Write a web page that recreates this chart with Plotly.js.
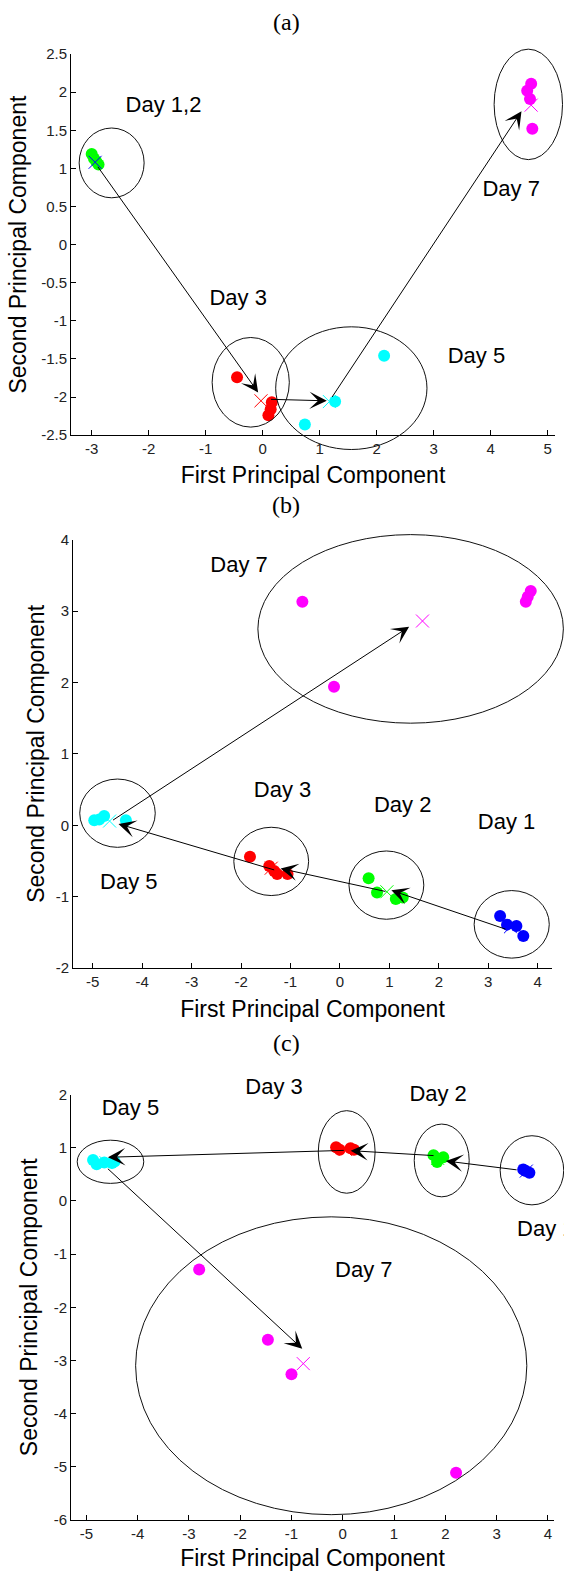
<!DOCTYPE html>
<html><head><meta charset="utf-8">
<script src="https://cdn.plot.ly/plotly-3.0.1.min.js"></script>
<style>html,body{margin:0;padding:0;background:#fff;}#chart{width:564px;height:1571px;}</style>
</head><body><div id="chart"></div>
<script>
// ================= DATA =================
// ---- Panel (a) ----
const aDay12X = [-3.00, -2.96, -2.92, -2.88];
const aDay12Y = [1.19, 1.13, 1.09, 1.05];
const aDay3X = [-0.45, 0.16, 0.14, 0.10];
const aDay3Y = [-1.74, -2.07, -2.16, -2.24];
const aDay5X = [2.13, 1.27, 0.74];
const aDay5Y = [-1.46, -2.06, -2.36];
const aDay7X = [4.71, 4.64, 4.69, 4.73];
const aDay7Y = [2.11, 2.02, 1.91, 1.52];
const aCentX = [-2.94, -0.03, 1.17, 4.71];
const aCentY = [1.08, -2.05, -2.06, 1.83];
const aEllCX = [-2.65, -0.21, 1.555, 4.66];
const aEllCY = [1.072, -1.807, -1.884, 1.84];
const aEllRX = [0.57, 0.677, 1.327, 0.60];
const aEllRY = [0.458, 0.588, 0.805, 0.725];
const aArrTailX = [-2.91, 0.12, 1.20];
const aArrTailY = [1.04, -2.03, -2.02];
const aArrHeadX = [-0.08, 1.125, 4.54];
const aArrHeadY = [-1.94, -2.05, 1.75];
const aLabels = ['Day 1,2', 'Day 3', 'Day 5', 'Day 7'];
const aLabX = [-1.74, -0.43, 3.75, 4.36];
const aLabY = [1.816, -0.715, -1.48, 0.716];
const aXTicks = [-3, -2, -1, 0, 1, 2, 3, 4, 5];
const aXTickText = ['-3', '-2', '-1', '0', '1', '2', '3', '4', '5'];
const aYTicks = [-2.5, -2, -1.5, -1, -0.5, 0, 0.5, 1, 1.5, 2, 2.5];
const aYTickText = ['-2.5', '-2', '-1.5', '-1', '-0.5', '0', '0.5', '1', '1.5', '2', '2.5'];

// ---- Panel (b) ----
const bDay1X = [3.24, 3.38, 3.57, 3.71];
const bDay1Y = [-1.27, -1.39, -1.41, -1.55];
const bDay2X = [0.58, 0.75, 1.13, 1.27];
const bDay2Y = [-0.74, -0.94, -1.03, -1.01];
const bDay3X = [-1.82, -1.43, -1.33, -1.27, -1.06];
const bDay3Y = [-0.44, -0.57, -0.64, -0.68, -0.68];
const bDay5X = [-4.97, -4.87, -4.77, -4.33];
const bDay5Y = [0.07, 0.08, 0.13, 0.07];
const bDay7X = [-0.76, -0.12, 3.76, 3.80, 3.86];
const bDay7Y = [3.13, 1.94, 3.13, 3.20, 3.28];
const bCentX = [3.45, 0.95, -1.39, -4.66, 1.67];
const bCentY = [-1.42, -0.93, -0.60, 0.06, 2.86];
const bEllCX = [3.475, 0.94, -1.39, -4.50, 1.43];
const bEllCY = [-1.386, -0.837, -0.505, 0.17, 2.75];
const bEllRX = [0.76, 0.757, 0.757, 0.764, 3.09];
const bEllRY = [0.473, 0.478, 0.478, 0.478, 1.32];
const bArrTailX = [3.38, 0.95, -1.30, -4.62];
const bArrTailY = [-1.46, -0.93, -0.63, 0.06];
const bArrHeadX = [1.04, -1.20, -4.48, 1.40];
const bArrHeadY = [-0.91, -0.605, 0.02, 2.78];
const bLabels = ['Day 7', 'Day 3', 'Day 2', 'Day 1', 'Day 5'];
const bLabX = [-2.04, -1.16, 1.27, 3.37, -4.27];
const bLabY = [3.63, 0.47, 0.27, 0.03, -0.82];
const bXTicks = [-5, -4, -3, -2, -1, 0, 1, 2, 3, 4];
const bXTickText = ['-5', '-4', '-3', '-2', '-1', '0', '1', '2', '3', '4'];
const bYTicks = [-2, -1, 0, 1, 2, 3, 4];
const bYTickText = ['-2', '-1', '0', '1', '2', '3', '4'];

// ---- Panel (c) ----
const cDay1X = [3.52, 3.57, 3.64];
const cDay1Y = [0.59, 0.56, 0.53];
const cDay2X = [1.77, 1.84, 1.86, 1.96];
const cDay2Y = [0.86, 0.73, 0.79, 0.82];
const cDay3X = [-0.13, -0.06, 0.15, 0.22];
const cDay3Y = [1.01, 0.96, 0.99, 0.96];
const cDay5X = [-4.87, -4.80, -4.65, -4.50, -4.45];
const cDay5Y = [0.77, 0.69, 0.72, 0.71, 0.74];
const cDay7X = [-2.80, -1.46, -1.00, 2.21];
const cDay7Y = [-1.29, -2.61, -3.26, -5.11];
const cCentX = [3.58, 1.85, 0.05, -4.62, -0.77];
const cCentY = [0.56, 0.80, 0.97, 0.72, -3.06];
const cEllCX = [3.69, 1.93, 0.077, -4.53, -0.225];
const cEllCY = [0.575, 0.76, 0.92, 0.735, -3.10];
const cEllRX = [0.62, 0.536, 0.554, 0.649, 3.815];
const cEllRY = [0.65, 0.684, 0.776, 0.406, 2.80];
const cArrTailX = [3.42, 1.80, 0.05, -4.61];
const cArrTailY = [0.58, 0.85, 0.95, 0.63];
const cArrHeadX = [2.01, 0.154, -4.58, -0.79];
const cArrHeadY = [0.75, 0.944, 0.82, -2.78];
const cLabels = ['Day 5', 'Day 3', 'Day 2', 'Day 1', 'Day 7'];
const cLabX = [-4.14, -1.34, 1.86, 3.96, 0.41];
const cLabY = [1.72, 2.11, 1.99, -0.55, -1.32];
const cXTicks = [-5, -4, -3, -2, -1, 0, 1, 2, 3, 4];
const cXTickText = ['-5', '-4', '-3', '-2', '-1', '0', '1', '2', '3', '4'];
const cYTicks = [-6, -5, -4, -3, -2, -1, 0, 1, 2];
const cYTickText = ['-6', '-5', '-4', '-3', '-2', '-1', '0', '1', '2'];

const panelTitles = ['(a)', '(b)', '(c)'];
const xTitle = 'First Principal Component';
const yTitle = 'Second Principal Component';

// ================= STYLE / LAYOUT =================
const W = 564, H = 1571;
const SANS = 'Liberation Sans, Arial, sans-serif';
const SERIF = 'Liberation Serif, Times New Roman, serif';
const COL = {g: '#00ff00', r: '#ff0000', c: '#00ffff', m: '#ff00ff', b: '#0000ff'};

const panels = [
  {xpx: [71, 555], ypx: [54.1, 435.1], xr: [-3.363, 5.128], yr: [-2.5, 2.5],
   xt: aXTicks, xtt: aXTickText, yt: aYTicks, ytt: aYTickText,
   groups: [[aDay12X, aDay12Y, COL.g], [aDay3X, aDay3Y, COL.r], [aDay5X, aDay5Y, COL.c], [aDay7X, aDay7Y, COL.m]],
   cent: [aCentX, aCentY, [COL.b, COL.r, COL.c, COL.m]],
   ell: [aEllCX, aEllCY, aEllRX, aEllRY],
   arr: [aArrTailX, aArrTailY, aArrHeadX, aArrHeadY],
   lab: [aLabels, aLabX, aLabY],
   title: {x: 286, y: 22}, xstand: 10, ystand: 8},
  {xpx: [73, 552], ypx: [539.6, 968.2], xr: [-5.40, 4.29], yr: [-2, 4],
   xt: bXTicks, xtt: bXTickText, yt: bYTicks, ytt: bYTickText,
   groups: [[bDay1X, bDay1Y, COL.b], [bDay2X, bDay2Y, COL.g], [bDay3X, bDay3Y, COL.r], [bDay5X, bDay5Y, COL.c], [bDay7X, bDay7Y, COL.m]],
   cent: [bCentX, bCentY, [COL.b, COL.g, COL.r, COL.c, COL.m]],
   ell: [bEllCX, bEllCY, bEllRX, bEllRY],
   arr: [bArrTailX, bArrTailY, bArrHeadX, bArrHeadY],
   lab: [bLabels, bLabX, bLabY],
   title: {x: 286, y: 505}, xstand: 11, ystand: 4},
  {xpx: [71, 554], ypx: [1094.5, 1520], xr: [-5.30, 4.12], yr: [-6, 2],
   xt: cXTicks, xtt: cXTickText, yt: cYTicks, ytt: cYTickText,
   groups: [[cDay1X, cDay1Y, COL.b], [cDay2X, cDay2Y, COL.g], [cDay3X, cDay3Y, COL.r], [cDay5X, cDay5Y, COL.c], [cDay7X, cDay7Y, COL.m]],
   cent: [cCentX, cCentY, [COL.b, COL.g, COL.r, COL.c, COL.m]],
   ell: [cEllCX, cEllCY, cEllRX, cEllRY],
   arr: [cArrTailX, cArrTailY, cArrHeadX, cArrHeadY],
   lab: [cLabels, cLabX, cLabY],
   title: {x: 286, y: 1043}, xstand: 10, ystand: 9}
];

const PAD = 30;
const traces = [];
const layout = {
  width: W, height: H, margin: {l: 0, r: 0, t: 0, b: 0, pad: 0},
  paper_bgcolor: '#fff', plot_bgcolor: 'rgba(0,0,0,0)',
  showlegend: false, font: {family: SANS, color: '#000'},
  shapes: [], annotations: []
};

panels.forEach((p, i) => {
  const n = i + 1, m = i + 4;
  const xa = n === 1 ? 'x' : 'x' + n, ya = n === 1 ? 'y' : 'y' + n;
  const xo = 'x' + m, yo = 'y' + m;
  const xKey = n === 1 ? 'xaxis' : 'xaxis' + n, yKey = n === 1 ? 'yaxis' : 'yaxis' + n;
  const tickfont = {family: SANS, size: 15, color: '#222'};
  layout[xKey] = {
    domain: [p.xpx[0] / W, p.xpx[1] / W], range: p.xr, anchor: ya,
    showline: true, linecolor: '#000', linewidth: 1, mirror: false,
    ticks: 'inside', ticklen: 5, tickwidth: 1, tickcolor: '#000',
    tickmode: 'array', tickvals: p.xt, ticktext: p.xtt, tickfont: tickfont,
    showgrid: false, zeroline: false, fixedrange: true,
    title: {text: xTitle, font: {family: SANS, size: 23, color: '#000'}, standoff: p.xstand}
  };
  layout[yKey] = {
    domain: [1 - p.ypx[1] / H, 1 - p.ypx[0] / H], range: p.yr, anchor: xa,
    showline: true, linecolor: '#000', linewidth: 1, mirror: false,
    ticks: 'inside', ticklen: 5, tickwidth: 1, tickcolor: '#000',
    tickmode: 'array', tickvals: p.yt, ticktext: p.ytt, tickfont: tickfont,
    showgrid: false, zeroline: false, fixedrange: true,
    title: {text: yTitle, font: {family: SANS, size: 23, color: '#000'}, standoff: p.ystand}
  };
  // overlay axes (same scale, wider area) so ellipses / arrows may run past the axes like the original
  const x0 = Math.max(0, p.xpx[0] - PAD), x1 = Math.min(W, p.xpx[1] + PAD);
  const y0 = Math.max(0, p.ypx[0] - PAD), y1 = Math.min(H, p.ypx[1] + PAD);
  const sx = (p.xr[1] - p.xr[0]) / (p.xpx[1] - p.xpx[0]);
  const sy = (p.yr[1] - p.yr[0]) / (p.ypx[1] - p.ypx[0]);
  layout['xaxis' + m] = {domain: [x0 / W, x1 / W], anchor: yo, visible: false, fixedrange: true,
    range: [p.xr[0] - (p.xpx[0] - x0) * sx, p.xr[1] + (x1 - p.xpx[1]) * sx]};
  layout['yaxis' + m] = {domain: [1 - y1 / H, 1 - y0 / H], anchor: xo, visible: false, fixedrange: true,
    range: [p.yr[0] - (y1 - p.ypx[1]) * sy, p.yr[1] + (p.ypx[0] - y0) * sy]};

  // day points
  p.groups.forEach(g => {
    traces.push({type: 'scatter', mode: 'markers', x: g[0], y: g[1], xaxis: xa, yaxis: ya,
      marker: {symbol: 'circle', size: 12, color: g[2], line: {width: 0}},
      hoverinfo: 'skip', cliponaxis: false});
  });
  // centroid crosses
  traces.push({type: 'scatter', mode: 'markers', x: p.cent[0], y: p.cent[1], xaxis: xa, yaxis: ya,
    marker: {symbol: 'x-thin-open', size: 13, color: p.cent[2], line: {width: 1, color: p.cent[2]}},
    hoverinfo: 'skip', cliponaxis: false});
  // day labels on the overlay axes
  traces.push({type: 'scatter', mode: 'text', x: p.lab[1], y: p.lab[2], text: p.lab[0],
    xaxis: xo, yaxis: yo, textposition: 'middle center', cliponaxis: false,
    textfont: {family: SANS, size: 22, color: '#000'}, hoverinfo: 'skip'});
  // ellipses
  p.ell[0].forEach((cx, k) => {
    layout.shapes.push({type: 'circle', xref: xo, yref: yo,
      x0: cx - p.ell[2][k], x1: cx + p.ell[2][k],
      y0: p.ell[1][k] - p.ell[3][k], y1: p.ell[1][k] + p.ell[3][k],
      line: {color: '#111', width: 1}});
  });
  // arrows
  p.arr[0].forEach((tx, k) => {
    layout.annotations.push({xref: xo, yref: yo, axref: xo, ayref: yo,
      x: p.arr[2][k], y: p.arr[3][k], ax: tx, ay: p.arr[1][k], text: '',
      showarrow: true, arrowhead: 3, arrowsize: 2.9, arrowwidth: 1, arrowcolor: '#000', standoff: 0});
  });
  // panel caption
  layout.annotations.push({xref: 'paper', yref: 'paper', x: p.title.x / W, y: 1 - p.title.y / H,
    xanchor: 'center', yanchor: 'middle', text: panelTitles[i], showarrow: false,
    font: {family: SERIF, size: 24, color: '#000'}});
});

Plotly.newPlot('chart', traces, layout, {displayModeBar: false, staticPlot: true});
</script>
</body></html>
